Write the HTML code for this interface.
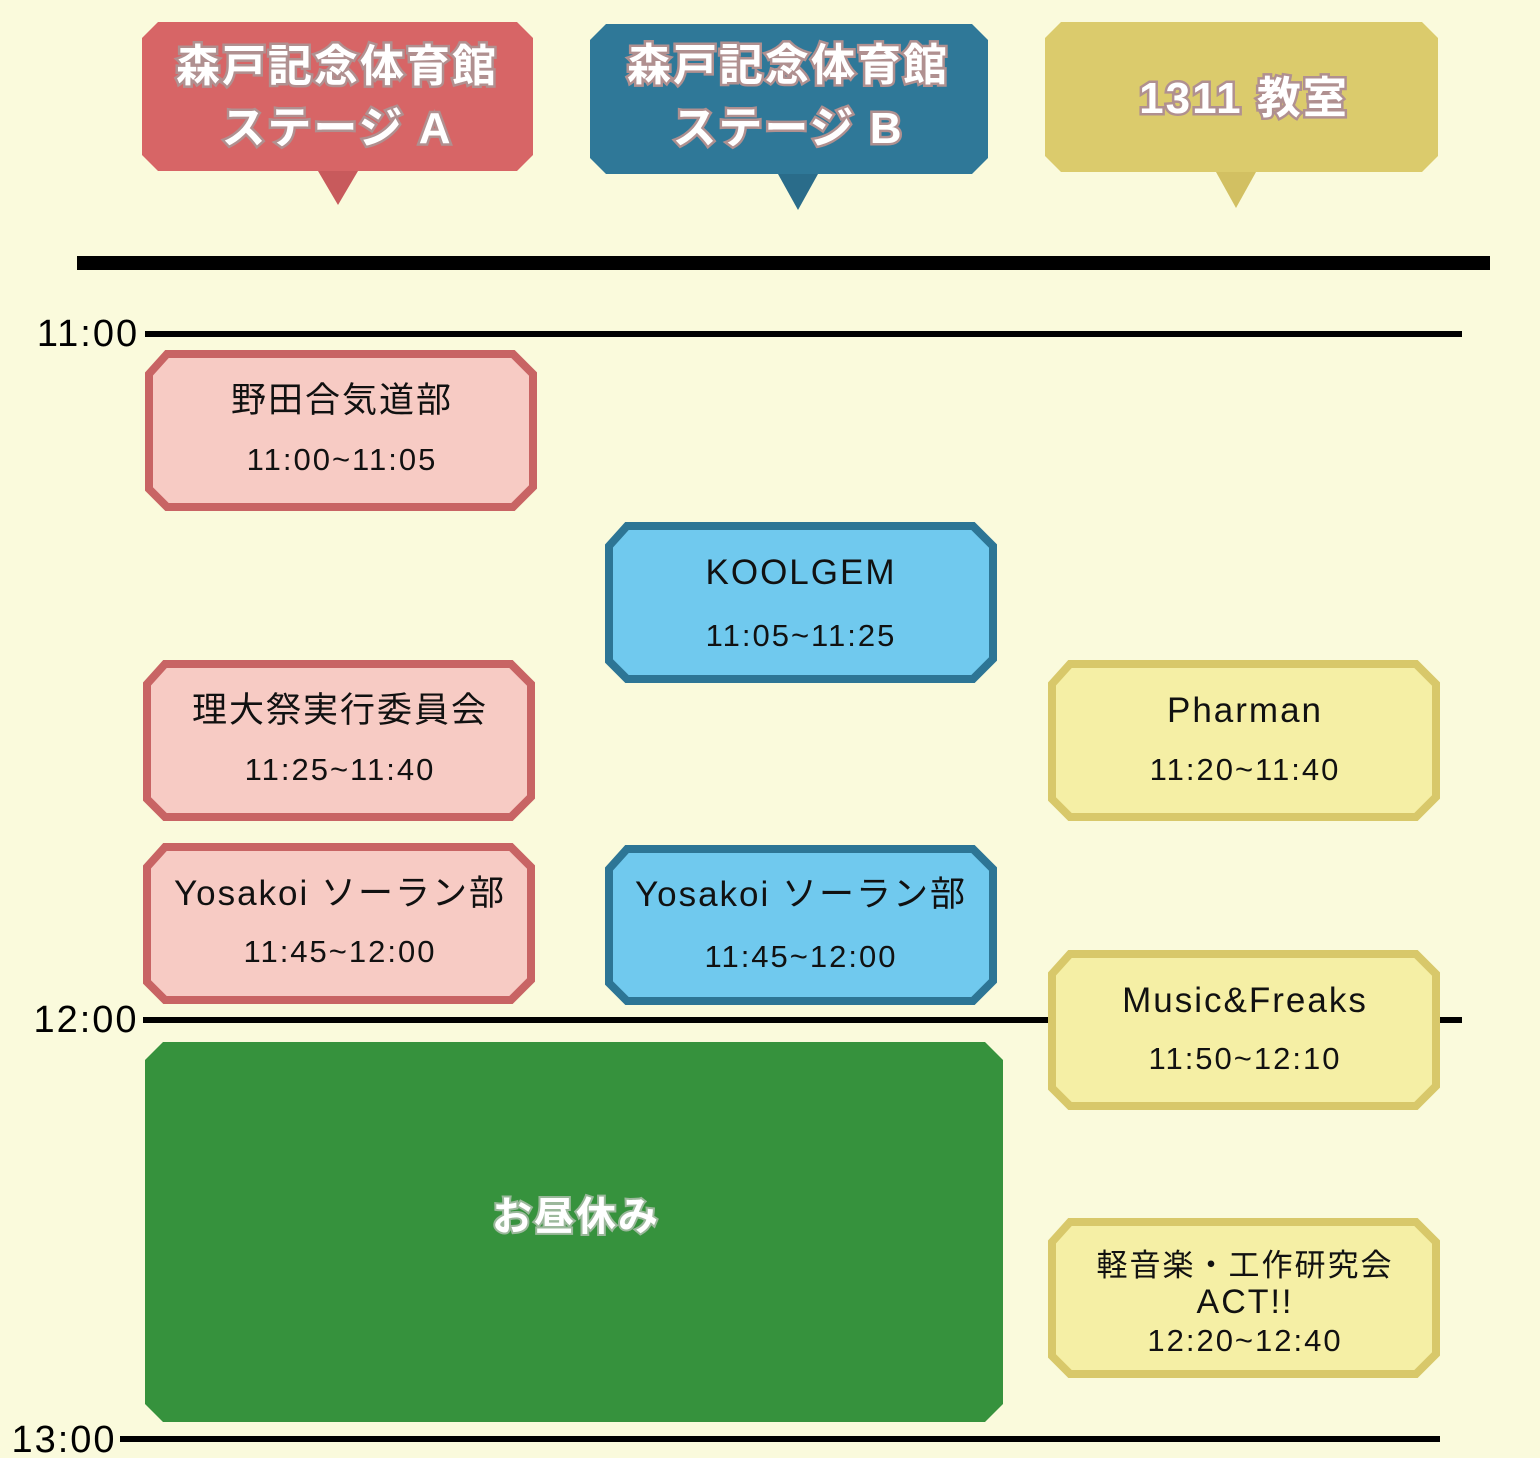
<!DOCTYPE html>
<html><head><meta charset="utf-8"><style>
html,body{margin:0;padding:0;background:#fafadc;}
svg{display:block}
text{font-family:"Liberation Sans","Noto Sans CJK JP",sans-serif;text-anchor:middle}
.hd{fill:#fff;font-weight:bold;font-size:44px;letter-spacing:2px;stroke:#b09090;stroke-width:5px;paint-order:stroke;}
.t1{font-size:35px;fill:#111;letter-spacing:2px}
.t2{font-size:31px;fill:#111;letter-spacing:2px}
.tl{font-size:38px;letter-spacing:2px}
</style></head><body>
<svg width="1540" height="1458" viewBox="0 0 1540 1458" xmlns="http://www.w3.org/2000/svg">
<!-- headers -->
<polygon points="158,22 517,22 533,38 533,155 517,171 158,171 142,155 142,38" fill="#d76566"/>
<polygon points="318,171 358,171 338,205" fill="#c85a5c"/>
<text class="hd" x="337" y="81">森戸記念体育館</text>
<text class="hd" x="337" y="143">ステージ A</text>

<polygon points="606,24 972,24 988,40 988,158 972,174 606,174 590,158 590,40" fill="#2f7898"/>
<polygon points="778,174 818,174 798,210" fill="#2a6c8a"/>
<text class="hd" x="788" y="80">森戸記念体育館</text>
<text class="hd" x="788" y="143">ステージ B</text>

<polygon points="1061,22 1422,22 1438,38 1438,156 1422,172 1061,172 1045,156 1045,38" fill="#dbcb6c"/>
<polygon points="1216,172 1256,172 1236,208" fill="#d2c062"/>
<text class="hd" x="1244" y="113">1311 教室</text>

<!-- lines -->
<rect x="77" y="256" width="1413" height="14" fill="#000"/>
<rect x="145" y="331" width="1317" height="6" fill="#000"/>
<rect x="143" y="1017" width="1319" height="6" fill="#000"/>
<rect x="120" y="1436" width="1320" height="6" fill="#000"/>
<text class="tl" x="88" y="346">11:00</text>
<text class="tl" x="86" y="1032">12:00</text>
<text class="tl" x="64" y="1452">13:00</text>

<!-- A boxes -->
<g stroke="#c86464" stroke-width="8" fill="#f7cbc4">
<polygon points="167,354 513,354 533,374 533,487 513,507 167,507 149,489 149,374"/>
<polygon points="165,664 511,664 531,684 531,797 511,817 165,817 147,799 147,684"/>
<polygon points="165,847 511,847 531,867 531,980 511,1000 165,1000 147,982 147,867"/>
</g>
<text class="t1" x="342" y="412">野田合気道部</text>
<text class="t2" x="342" y="470">11:00~11:05</text>
<text class="t1" x="340" y="722">理大祭実行委員会</text>
<text class="t2" x="340" y="780">11:25~11:40</text>
<text class="t1" x="340" y="905">Yosakoi ソーラン部</text>
<text class="t2" x="340" y="962">11:45~12:00</text>

<!-- B boxes -->
<g stroke="#2d7595" stroke-width="8" fill="#70c9ee">
<polygon points="627,526 973,526 993,546 993,659 973,679 627,679 609,661 609,546"/>
<polygon points="627,849 973,849 993,869 993,981 973,1001 627,1001 609,983 609,869"/>
</g>
<text class="t1" x="801" y="584">KOOLGEM</text>
<text class="t2" x="801" y="646">11:05~11:25</text>
<text class="t1" x="801" y="906">Yosakoi ソーラン部</text>
<text class="t2" x="801" y="967">11:45~12:00</text>

<!-- C boxes -->
<g stroke="#d8c86a" stroke-width="8" fill="#f5efa5">
<polygon points="1070,664 1416,664 1436,684 1436,797 1416,817 1070,817 1052,799 1052,684"/>
<polygon points="1070,954 1416,954 1436,974 1436,1086 1416,1106 1070,1106 1052,1088 1052,974"/>
<polygon points="1070,1222 1416,1222 1436,1242 1436,1354 1416,1374 1070,1374 1052,1356 1052,1242"/>
</g>
<text class="t1" x="1245" y="722">Pharman</text>
<text class="t2" x="1245" y="780">11:20~11:40</text>
<text class="t1" x="1245" y="1012">Music&amp;Freaks</text>
<text class="t2" x="1245" y="1069">11:50~12:10</text>
<text class="t2" x="1245" y="1276">軽音楽・工作研究会</text>
<text class="t2" x="1245" y="1313" style="font-size:34px">ACT!!</text>
<text class="t2" x="1245" y="1351">12:20~12:40</text>

<!-- lunch -->
<polygon points="163,1042 985,1042 1003,1060 1003,1404 985,1422 163,1422 145,1404 145,1060" fill="#36923d"/>
<text x="576" y="1230" style="font-size:40px;font-weight:bold;letter-spacing:2px;fill:#fff;stroke:#9bb89b;stroke-width:4px;paint-order:stroke">お昼休み</text>
</svg>
</body></html>
